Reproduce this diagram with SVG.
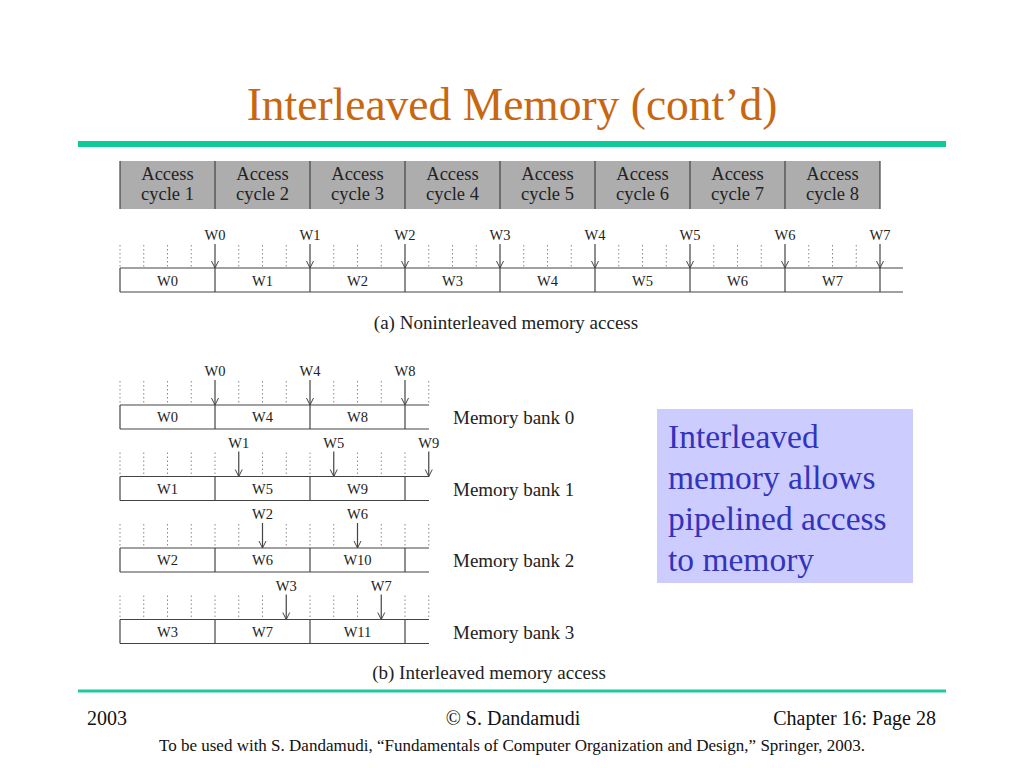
<svg xmlns="http://www.w3.org/2000/svg" width="1024" height="768" viewBox="0 0 1024 768">
<defs>
<marker id="ah" markerWidth="10" markerHeight="10" refX="9.5" refY="5" orient="auto" markerUnits="userSpaceOnUse" viewBox="0 0 10 10">
<path d="M2.5,1.5 L9.5,5 L2.5,8.5" fill="none" stroke="#444" stroke-width="1"/>
</marker>
</defs>
<style>
text{font-family:"Liberation Serif","Times New Roman",serif;}
.title{font-size:45.5px;fill:#c8670f;}
.cyc{font-size:18.5px;fill:#222;text-anchor:middle;}
.w{font-size:14.5px;fill:#222;text-anchor:middle;}
.cap{font-size:19px;fill:#222;text-anchor:middle;}
.bank{font-size:19px;fill:#222;}
.dot{fill:none;stroke:#888;stroke-width:1;stroke-dasharray:1.5,2.5;}
.ln{fill:none;stroke:#444;stroke-width:1.2;}
.arr{fill:none;stroke:#444;stroke-width:1.2;marker-end:url(#ah);}
.note{font-size:33.5px;fill:#3333bb;}
.foot{font-size:20px;fill:#111;}
.foot2{font-size:17px;fill:#111;text-anchor:middle;}
</style>
<rect width="1024" height="768" fill="#fff"/>
<g id="title"><text class="title" x="512" y="120" text-anchor="middle">Interleaved Memory (cont’d)</text></g>
<rect id="topRule" x="78" y="141" width="868" height="6" fill="#0fc99b"/>

<g id="cycles">
<rect x="120" y="161" width="760" height="48" fill="#adadad"/>
<path class="ln" d="M120,161V209M215,161V209M310,161V209M405,161V209M500,161V209M595,161V209M690,161V209M785,161V209M880,161V209"/>
<text class="cyc" x="167.5" y="180">Access</text><text class="cyc" x="167.5" y="200">cycle 1</text>
<text class="cyc" x="262.5" y="180">Access</text><text class="cyc" x="262.5" y="200">cycle 2</text>
<text class="cyc" x="357.5" y="180">Access</text><text class="cyc" x="357.5" y="200">cycle 3</text>
<text class="cyc" x="452.5" y="180">Access</text><text class="cyc" x="452.5" y="200">cycle 4</text>
<text class="cyc" x="547.5" y="180">Access</text><text class="cyc" x="547.5" y="200">cycle 5</text>
<text class="cyc" x="642.5" y="180">Access</text><text class="cyc" x="642.5" y="200">cycle 6</text>
<text class="cyc" x="737.5" y="180">Access</text><text class="cyc" x="737.5" y="200">cycle 7</text>
<text class="cyc" x="832.5" y="180">Access</text><text class="cyc" x="832.5" y="200">cycle 8</text>
</g>

<g id="rowA">
<path class="dot" d="M120,245V267M143.75,245V267M167.5,245V267M191.25,245V267M238.75,245V267M262.5,245V267M286.25,245V267M333.75,245V267M357.5,245V267M381.25,245V267M428.75,245V267M452.5,245V267M476.25,245V267M523.75,245V267M547.5,245V267M571.25,245V267M618.75,245V267M642.5,245V267M666.25,245V267M713.75,245V267M737.5,245V267M761.25,245V267M808.75,245V267M832.5,245V267M856.25,245V267"/>
<path class="ln" d="M120,268H903M120,292H903M120,268V292M215,268V292M310,268V292M405,268V292M500,268V292M595,268V292M690,268V292M785,268V292M880,268V292"/>
<text class="w" x="215" y="240">W0</text><text class="w" x="310" y="240">W1</text><text class="w" x="405" y="240">W2</text><text class="w" x="500" y="240">W3</text>
<text class="w" x="595" y="240">W4</text><text class="w" x="690" y="240">W5</text><text class="w" x="785" y="240">W6</text><text class="w" x="880" y="240">W7</text>
<text class="w" x="167.5" y="286">W0</text><text class="w" x="262.5" y="286">W1</text><text class="w" x="357.5" y="286">W2</text><text class="w" x="452.5" y="286">W3</text>
<text class="w" x="547.5" y="286">W4</text><text class="w" x="642.5" y="286">W5</text><text class="w" x="737.5" y="286">W6</text><text class="w" x="832.5" y="286">W7</text>
<text class="cap" x="506" y="329">(a) Noninterleaved memory access</text>
</g>

<g id="connectors">
<path class="arr" d="M215,244V268"/><path class="arr" d="M310,244V268"/><path class="arr" d="M405,244V268"/><path class="arr" d="M500,244V268"/>
<path class="arr" d="M595,244V268"/><path class="arr" d="M690,244V268"/><path class="arr" d="M785,244V268"/><path class="arr" d="M880,244V268"/>
<path class="arr" d="M215,380V405"/><path class="arr" d="M310,380V405"/><path class="arr" d="M405,380V405"/>
<path class="arr" d="M238.75,451.5V476.5"/><path class="arr" d="M333.75,451.5V476.5"/><path class="arr" d="M428.75,451.5V476.5"/>
<path class="arr" d="M262.5,523V548"/><path class="arr" d="M357.5,523V548"/>
<path class="arr" d="M286.25,594.5V619.5"/><path class="arr" d="M381.25,594.5V619.5"/>
</g>

<g id="bank0">
<path class="dot" d="M120,381V403M143.75,381V403M167.5,381V403M191.25,381V403M238.75,381V403M262.5,381V403M286.25,381V403M333.75,381V403M357.5,381V403M381.25,381V403M428.75,381V403"/>
<path class="ln" d="M120,405H429M120,429H429M120,405V429M215,405V429M310,405V429M405,405V429"/>
<text class="w" x="215" y="376">W0</text><text class="w" x="310" y="376">W4</text><text class="w" x="405" y="376">W8</text>
<text class="w" x="167.5" y="422">W0</text><text class="w" x="262.5" y="422">W4</text><text class="w" x="357.5" y="422">W8</text>
<text class="bank" x="453" y="424">Memory bank 0</text>
</g>
<g id="bank1" transform="translate(0,71.5)">
<path class="dot" d="M120,381V403M143.75,381V403M167.5,381V403M191.25,381V403M215,381V403M262.5,381V403M286.25,381V403M310,381V403M357.5,381V403M381.25,381V403M405,381V403"/>
<path class="ln" d="M120,405H429M120,429H429M120,405V429M215,405V429M310,405V429M405,405V429"/>
<text class="w" x="238.75" y="376">W1</text><text class="w" x="333.75" y="376">W5</text><text class="w" x="428.75" y="376">W9</text>
<text class="w" x="167.5" y="422">W1</text><text class="w" x="262.5" y="422">W5</text><text class="w" x="357.5" y="422">W9</text>
<text class="bank" x="453" y="424">Memory bank 1</text>
</g>
<g id="bank2" transform="translate(0,143)">
<path class="dot" d="M120,381V403M143.75,381V403M167.5,381V403M191.25,381V403M215,381V403M238.75,381V403M286.25,381V403M310,381V403M333.75,381V403M381.25,381V403M405,381V403M428.75,381V403"/>
<path class="ln" d="M120,405H429M120,429H429M120,405V429M215,405V429M310,405V429M405,405V429"/>
<text class="w" x="262.5" y="376">W2</text><text class="w" x="357.5" y="376">W6</text>
<text class="w" x="167.5" y="422">W2</text><text class="w" x="262.5" y="422">W6</text><text class="w" x="357.5" y="422">W10</text>
<text class="bank" x="453" y="424">Memory bank 2</text>
</g>
<g id="bank3" transform="translate(0,214.5)">
<path class="dot" d="M120,381V403M143.75,381V403M167.5,381V403M191.25,381V403M215,381V403M238.75,381V403M262.5,381V403M310,381V403M333.75,381V403M357.5,381V403M405,381V403M428.75,381V403"/>
<path class="ln" d="M120,405H429M120,429H429M120,405V429M215,405V429M310,405V429M405,405V429"/>
<text class="w" x="286.25" y="376">W3</text><text class="w" x="381.25" y="376">W7</text>
<text class="w" x="167.5" y="422">W3</text><text class="w" x="262.5" y="422">W7</text><text class="w" x="357.5" y="422">W11</text>
<text class="bank" x="453" y="424">Memory bank 3</text>
</g>
<g id="captionB"><text class="cap" x="489" y="679">(b) Interleaved memory access</text></g>

<g id="note">
<rect x="657" y="409" width="256" height="174" fill="#ccccff"/>
<text class="note" x="668" y="448">Interleaved</text>
<text class="note" x="668" y="489">memory allows</text>
<text class="note" x="668" y="530">pipelined access</text>
<text class="note" x="668" y="571">to memory</text>
</g>

<rect id="bottomRule" x="78" y="689.5" width="868" height="3" fill="#1fc9a0"/>
<g id="footer">
<text class="foot" x="87" y="725">2003</text>
<text class="foot" x="513" y="725" text-anchor="middle">© S. Dandamudi</text>
<text class="foot" x="936" y="725" text-anchor="end">Chapter 16: Page 28</text>
<text class="foot2" x="512" y="751">To be used with S. Dandamudi, “Fundamentals of Computer Organization and Design,” Springer, 2003.</text>
</g>
</svg>
